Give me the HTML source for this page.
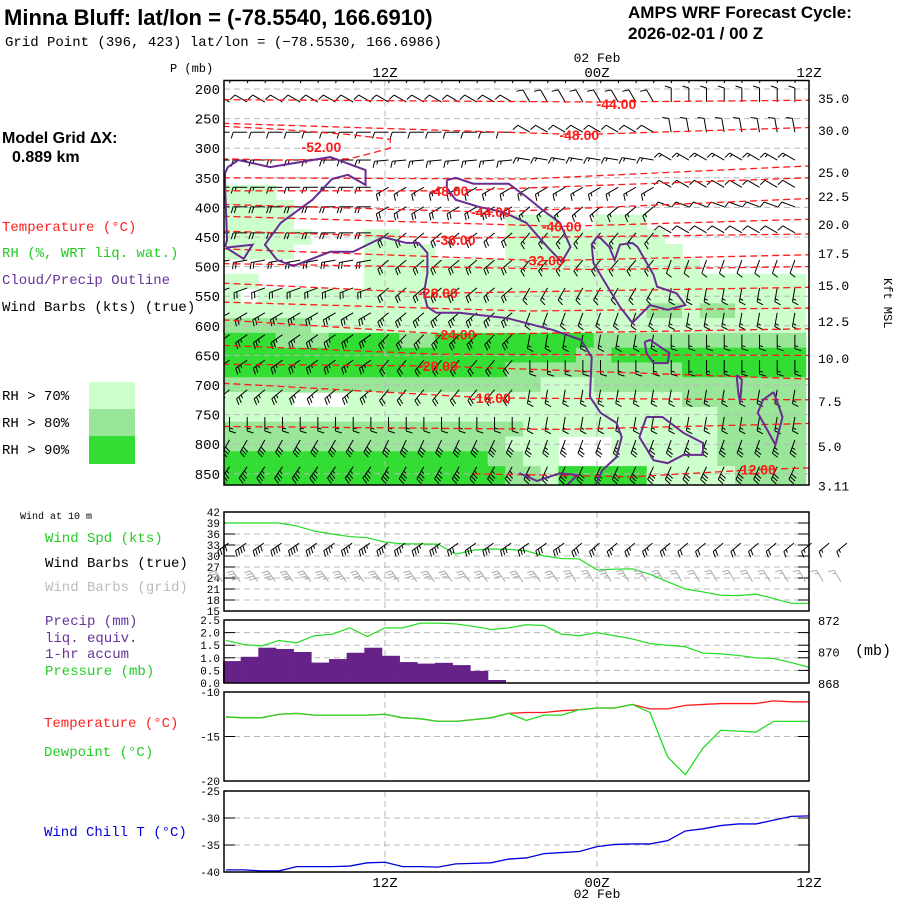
<!DOCTYPE html>
<html><head><meta charset="utf-8"><style>
html,body{margin:0;padding:0;background:#fff;}
svg{display:block;}
text{font-family:"Liberation Mono","DejaVu Sans Mono",monospace;}
.b{font-family:"Liberation Sans",sans-serif;font-weight:bold;}
.s{font-family:"Liberation Sans",sans-serif;}
</style></head><body>
<svg id="chart" xmlns="http://www.w3.org/2000/svg" width="900" height="900" viewBox="0 0 900 900">
<rect x="0" y="0" width="900" height="900" fill="#fff"/>
<text class="b" x="4" y="25" font-size="22">Minna Bluff:  lat/lon = (-78.5540, 166.6910)</text>
<text x="5" y="46" font-size="14">Grid Point (396, 423) lat/lon = (−78.5530, 166.6986)</text>
<text class="b" x="628" y="18" font-size="17">AMPS WRF Forecast Cycle:</text>
<text class="b" x="628" y="39" font-size="17">2026-02-01 / 00  Z</text>
<text class="b" x="2" y="143" font-size="16">Model Grid ΔX:</text>
<text class="b" x="12" y="162" font-size="16">0.889 km</text>
<g font-size="14">
<text x="2" y="231" fill="#ff2020">Temperature (°C)</text>
<text x="2" y="257" fill="#22cc22">RH (%, WRT liq. wat.)</text>
<text x="2" y="284" fill="#663399">Cloud/Precip Outline</text>
<text x="2" y="311" fill="#000">Wind Barbs (kts) (true)</text>
<text x="2" y="400">RH &gt; 70%</text>
<text x="2" y="427">RH &gt; 80%</text>
<text x="2" y="454">RH &gt; 90%</text>
</g>
<rect x="89" y="382" width="46" height="27" fill="#ccffcc"/>
<rect x="89" y="409" width="46" height="27" fill="#99e699"/>
<rect x="89" y="436" width="46" height="28" fill="#33dd33"/>
<text x="20" y="519" font-size="10">Wind at 10 m</text>
<g font-size="14">
<text x="45" y="542" fill="#22cc22">Wind Spd (kts)</text>
<text x="45" y="567" fill="#000">Wind Barbs (true)</text>
<text x="45" y="591" fill="#bbb">Wind Barbs (grid)</text>
<text x="45" y="625" fill="#663399">Precip (mm)</text>
<text x="45" y="642" fill="#663399">liq. equiv.</text>
<text x="45" y="658" fill="#663399">1-hr accum</text>
<text x="45" y="675" fill="#22cc22">Pressure (mb)</text>
<text x="44" y="727" fill="#ff2020">Temperature (°C)</text>
<text x="44" y="756" fill="#22cc22">Dewpoint (°C)</text>
<text x="44" y="836" fill="#0000dd">Wind Chill T (°C)</text>
</g>
<text x="170" y="72" font-size="12">P (mb)</text>
<text x="855" y="655" font-size="15">(mb)</text>
<text x="884" y="278" font-size="12" transform="rotate(90 884 278)">Kft MSL</text>
<g id="plot"></g>
</svg>
<script>
// ---------- data ----------
const hours = [3,4,5,6,7,8,9,10,11,12,13,14,15,16,17,18,19,20,21,22,23,24,25,26,27,28,29,30,31,32,33,34,35,36];
const windSpd = [39,39,39,39,38.2,36.8,36,35.3,35,33.8,33.3,33.3,33.2,30.5,31.6,31.9,31.8,31.4,30.0,29.3,29.2,26.2,26.4,26.5,25.0,23.0,21.0,20.2,19.3,19.2,19.6,18.4,17.1,17.1];
const sfcPres = [870.7,870.45,870.35,870.7,870.55,871.0,871.1,871.5,870.95,871.5,871.5,871.8,871.8,871.75,871.6,871.4,871.5,871.7,871.65,871.1,871.0,871.2,871.0,870.8,870.5,870.4,870.3,869.9,869.85,869.75,869.6,869.55,869.3,869.0];
const precip = [0.87,1.04,1.4,1.35,1.23,0.81,0.95,1.2,1.4,1.08,0.83,0.77,0.8,0.71,0.48,0.12];
const sfcTemp = [-12.8,-12.9,-12.9,-12.5,-12.4,-12.6,-12.6,-12.6,-12.6,-12.5,-12.9,-13.0,-13.3,-13.3,-13.1,-12.9,-12.4,-12.3,-12.3,-12.1,-12.0,-11.8,-11.8,-11.4,-11.9,-11.9,-11.5,-11.4,-11.3,-11.3,-11.3,-11.0,-11.1,-11.1];
const sfcDew = [-12.8,-12.9,-12.9,-12.5,-12.4,-12.6,-12.6,-12.6,-12.6,-12.5,-12.9,-13.0,-13.3,-13.3,-13.1,-12.9,-12.4,-13.2,-12.6,-12.6,-12.0,-11.8,-11.8,-11.4,-12.3,-17.3,-19.3,-16.3,-14.3,-14.4,-14.5,-13.3,-13.3,-13.3];
const windChill = [-39.6,-39.6,-39.8,-39.8,-39.0,-39.0,-39.0,-38.9,-38.3,-38.2,-39.0,-39.0,-39.1,-38.5,-38.4,-38.3,-37.6,-37.4,-36.6,-36.4,-36.2,-35.3,-34.9,-34.8,-34.8,-34.2,-32.4,-32.0,-31.4,-31.1,-31.1,-30.4,-29.7,-29.6];
const sfcBarbDir = [235,235,235,235,235,235,235,235,235,235,235,235,235,235,235,235,235,235,235,235,230,230,230,230,230,230,230,230,230,230,230,230,230,230,230,230];
const gridBarbDir = [325,325,325,325,325,325,325,325,325,325,325,325,325,325,325,325,325,325,325,325,330,330,330,330,330,330,330,330,330,330,330,330,330,330,330,330];

const pTicks = [200,250,300,350,400,450,500,550,600,650,700,750,800,850];
const kftLabels = ["35.0","30.0","25.0","22.5","20.0","17.5","15.0","12.5","10.0","7.5","5.0","3.11"];
const kftP = [215,269,340,381,428,477,531,592,654,727,803,870];
const windTicks = [42,39,36,33,30,27,24,21,18,15];
const precipTicks = [2.5,2.0,1.5,1.0,0.5,0.0];
const presTicks = [872,870,868];
const tempTicks = [-10,-15,-20];
const wcTicks = [-25,-30,-35,-40];

// RH categories (0 none, 1 >70, 2 >80, 3 >90): rows by pressure, columns hourly
const rhP = [200,225,250,275,300,325,350,375,400,425,450,475,500,525,550,575,600,625,650,675,700,725,750,775,800,825,850];
const rhRows = [
"000000000000000000000000000000000",
"000000000000000000000000000000000",
"000000000000000000000000000000000",
"000000000000000000000000000000000",
"000000000000000000000000000000000",
"000000000000000000000000000000000",
"000000000000000000000000000000000",
"111000000000000000000000000000000",
"111100000000000000000000000000000",
"111100000000000011100111000000000",
"111110001100000011111111100000000",
"111100001111000011111111110000000",
"000000001111111111111111111000000",
"110000001111111111111111111111111",
"101111111111111111111111111111111",
"111111111111111111111111221221111",
"222221111111111111111111111111111",
"333222333322333333333222222222222",
"333333333333333333332233333333333",
"333333333333333322222222223333333",
"222222222222222222111222222222222",
"111100011111111111111111112222222",
"111111111111111111111111111122222",
"222222222222222221111111111122222",
"222222222222222211100011111122222",
"333333333333333221100011111122222",
"333333333333333322133333111112222"];

// isotherms: lists of [hour, pressure]
const isoLines = [
 [[2.8,218],[24,222],[36,219]],
 [[2.8,258],[23,277],[36,265]],
 [[2.8,263],[6,268],[10,277],[12.3,285],[12.3,300],[10,318],[6,320],[2.8,318]],
 [[2.8,350],[20,352],[36,330]],
 [[2.8,372],[15.5,372],[36,350]],
 [[2.8,395],[18,408],[36,385]],
 [[2.8,415],[22,432],[36,420]],
 [[2.8,440],[16,452],[36,445]],
 [[2.8,470],[21,490],[36,480]],
 [[2.8,495],[24,505],[36,500]],
 [[2.8,528],[15,545],[36,535]],
 [[2.8,560],[20,575],[36,570]],
 [[2.8,590],[16,615],[36,605]],
 [[2.8,633],[15,648],[36,650]],
 [[2.8,665],[15,668],[36,690]],
 [[2.8,697],[18,722],[36,725]],
 [[2.8,770],[22,775],[36,765]],
 [[17,850],[26,855],[33,843],[36,840]]];
const isoLabels = ["-44.00","-48.00","-52.00","-48.00","-44.00","-40.00","-36.00","-32.00","-28.00","-24.00","-20.00","-16.00","-12.00"];
const isoLabelH = [25.1,23,8.4,15.6,18,22,16,21,15,16,15,18,33];
const isoLabelP = [225,278,298,372,408,432,455,490,545,615,668,722,843];

// cloud/precip outlines: lists of [hour, pressure]
const clouds = [
 [[2.95,342],[3.1,332],[3.7,320],[5.5,332],[8.9,315],[10.9,337],[10.9,362],[9.9,345],[9.0,352],[7.9,387],[6.1,426],[5.2,463],[5.9,489],[6.8,499],[8.9,475],[10.2,475],[11.9,450],[13.2,460],[13.9,460],[14.4,477],[14.4,511],[14.2,545],[14.4,568],[14.9,578],[16.2,578],[18.9,587],[21.5,607],[23.1,624],[23.7,653],[23.6,720],[24.2,747],[25.1,764],[25.4,788],[25.1,822],[24.3,844],[23.9,869]],
 [[2.95,342],[2.95,366],[3.06,455],[2.95,467]],
 [[3.0,468],[4.5,463],[4.0,487],[3.0,468]],
 [[19.6,849],[20.6,862],[21.9,849],[22.9,852],[22.3,869]],
 [[15.5,354],[16.0,350],[17.0,360],[19.0,360],[20.0,382],[20.9,404],[21.9,426],[22.5,467],[22.0,492],[21.2,467],[20.0,426],[18.7,408],[17.3,399],[16.0,387],[15.5,367],[15.5,354]],
 [[24.0,450],[23.7,463],[23.8,494],[24.6,534],[25.3,568],[26.0,595],[27.0,565],[28.0,573],[29.0,565],[28.5,545],[27.4,534],[27.2,514],[26.3,467],[26.0,460],[25.3,463],[25.0,489],[24.7,467],[24.2,452],[24.0,450]],
 [[26.7,627],[27.0,624],[28.1,646],[28.0,663],[27.2,663],[26.8,646],[26.7,627]],
 [[31.9,683],[32.2,691],[32.1,730],[32.0,713],[31.9,683]],
 [[34.0,712],[34.5,754],[34.1,801],[33.1,747],[33.4,725],[34.0,712]],
 [[26.8,754],[27.7,754],[28.9,781],[30.0,798],[30.0,818],[28.9,818],[28.0,832],[27.2,827],[26.4,788],[26.8,754]]];

// upper-air barbs: rows at pressure, 4 time segments of direction / speed
const barbP = [190,222,273,320,366,399,443,489,536,578,615,658,708,754,793,838];
const barbDir = [[20,20,15,10],[300,300,330,0],[270,270,300,350],[270,265,280,300],[270,240,240,300],[270,240,230,290],[270,230,220,300],[260,230,220,200],[250,230,210,190],[240,230,200,190],[235,225,190,180],[235,220,180,180],[230,220,190,190],[180,180,190,190],[210,205,200,200],[215,210,205,205]];
const barbSpd = [[5,5,5,5],[10,10,10,10],[10,10,10,10],[15,15,15,15],[15,15,15,10],[20,20,15,10],[20,20,15,10],[20,20,15,10],[20,20,15,15],[25,25,15,15],[25,25,15,15],[25,20,15,15],[25,20,15,15],[15,15,15,15],[30,30,25,25],[35,35,30,30]];

// ---------- scales ----------
const X0=224, X1=809, H0=2.83;
const xH = h => 385 + (h-12)*17.667;
const MY0=80.5, MY1=485;
const yP = p => 89 + (p-200)*0.592;
const yW = v => 512 + (42-v)*3.667;
const yPr = v => 683 - v*25.2;
const yPs = p => 683 - (p-868)*15.75;
const yT = t => 692 + (-10-t)*8.9;
const yWC = t => 791 + (-25-t)*5.4;

const NS="http://www.w3.org/2000/svg";
const plot=document.getElementById('plot');
function el(tag, attrs, parent){const e=document.createElementNS(NS,tag);for(const k in attrs)e.setAttribute(k,attrs[k]);(parent||plot).appendChild(e);return e;}

const defs=el('defs',{});
const cp=el('clipPath',{id:'mainclip'},defs);
el('rect',{x:X0,y:MY0,width:X1-X0,height:MY1-MY0},cp);
const cpw=el('clipPath',{id:'windclip'},defs);
el('rect',{x:X0,y:512,width:X1-X0,height:99},cpw);

// ---------- main panel ----------
const main=el('g',{'clip-path':'url(#mainclip)'});


const rhColors=['none','#ccffcc','#99e699','#33dd33'];
rhRows.forEach((row,ri)=>{
  const pTop = ri===0 ? 180 : rhP[ri]-12.5;
  const pBot = ri===rhP.length-1 ? 875 : rhP[ri]+12.5;
  for(let ci=0;ci<row.length;ci++){
    const v=+row[ci]; if(!v) continue;
    const r=el('rect',{x:xH(H0+ci)-0.3,y:yP(pTop)-0.3,width:17.667+0.6,height:yP(pBot)-yP(pTop)+0.6,fill:rhColors[v]},main);
    
    
  }
});
pTicks.forEach(p=>{
  const l=el('line',{x1:X0,x2:X1,y1:yP(p),y2:yP(p),stroke:'#b8b8b8','stroke-dasharray':'6,4','stroke-width':1},main);
  
  
});
[12,24].forEach(h=>{
  const l=el('line',{x1:xH(h),x2:xH(h),y1:MY0,y2:MY1,stroke:'#b8b8b8','stroke-dasharray':'6,4'},main);
  
  
});
function barb(parent, cx, cy, dir, spd, color, len, sw){
  const g=el('g',{stroke:color,'stroke-width':sw||1,fill:'none'},parent);
  const t=dir*Math.PI/180, dx=Math.sin(t), dy=-Math.cos(t);
  const px=dy, py=-dx;
  const tx=cx+dx*len, ty=cy+dy*len;
  el('line',{x1:cx,y1:cy,x2:tx,y2:ty},g);
  let s=Math.round(spd/5)*5, pos=0;
  const fl=len*0.45;
  while(s>=10){const bx=tx-dx*pos, by=ty-dy*pos; el('line',{x1:bx,y1:by,x2:bx+px*fl+dx*2,y2:by+py*fl+dy*2},g); pos+=3; s-=10;}
  if(s>=5){ if(pos===0)pos=3; const bx=tx-dx*pos, by=ty-dy*pos; el('line',{x1:bx,y1:by,x2:bx+px*fl*0.55+dx*1,y2:by+py*fl*0.55+dy*1},g);}
  return g;
}
barbP.forEach((p,ri)=>{
  for(let k=0;k<33;k++){
    const seg=Math.min(3,Math.floor(k/8.25));
    const g=barb(main, xH(3.2+k), yP(p), barbDir[ri][seg], barbSpd[ri][seg], '#000', 14, 1);
    
    
  }
});
isoLines.forEach(line=>{
  const pl=el('polyline',{points:line.map(d=>xH(d[0])+','+yP(d[1])).join(' '),fill:'none',stroke:'#ff1a1a','stroke-width':1.3,'stroke-dasharray':'7,4'},main);
  
  
});
clouds.forEach(c=>{
  const pl=el('polyline',{points:c.map(d=>xH(d[0])+','+yP(d[1])).join(' '),fill:'none',stroke:'#6a2c91','stroke-width':2},main);
  
  
});
isoLabels.forEach((s,i)=>{
  const t=el('text',{x:xH(isoLabelH[i]),y:yP(isoLabelP[i])+5,'font-size':14,fill:'#ff1a1a','text-anchor':'middle',class:'b'},main);
  t.textContent=s;
  
  
});
const mf=el('rect',{x:X0,y:MY0,width:X1-X0,height:MY1-MY0,fill:'none',stroke:'#000','stroke-width':1.5});


pTicks.forEach(p=>{
  const t=el('text',{x:220,y:yP(p)+5,'font-size':14,'text-anchor':'end'});
  t.textContent=p;
  
  
});
kftLabels.forEach((s,i)=>{
  const t=el('text',{x:818,y:yP(kftP[i])+5,'font-size':13});
  t.textContent=s;
  
  
});
function timeLabels(y, dateY){
  [[12,'12Z'],[24,'00Z'],[36,'12Z']].forEach(d=>{
    const t=el('text',{x:xH(d[0]),y:y,'font-size':14,'text-anchor':'middle'});
    t.textContent=d[1];
    
    
  });
  const t=el('text',{x:xH(24),y:dateY,'font-size':13,'text-anchor':'middle'});
  t.textContent='02 Feb';
  
  
}
timeLabels(77,62);
timeLabels(887,898);

// ---------- lower panels ----------
function panel(name, y0, y1, ticks, yf, leftLabels, rightTicks, yr){
  const g=el('g',{});
  
  
  ticks.forEach(v=>{
    const y=yf(v);
    if(y>y0+1&&y<y1-1){
      const l=el('line',{x1:X0,x2:X1,y1:y,y2:y,stroke:'#b8b8b8','stroke-dasharray':'6,4'},g);
      
      
      el('line',{x1:X0,x2:X0+11,y1:y,y2:y,stroke:'#000'},g);
      el('line',{x1:X1-11,x2:X1,y1:y,y2:y,stroke:'#000'},g);
    }
    if(leftLabels){
      const t=el('text',{x:220,y:y+4,'font-size':11,'text-anchor':'end'},g);
      t.textContent=leftLabels(v);
      
      
    }
  });
  if(rightTicks){rightTicks.forEach(v=>{
    const y=yr(v);
    if(y>y0+1&&y<y1-1){el('line',{x1:X1-11,x2:X1,y1:y,y2:y,stroke:'#000'},g);}
    const t=el('text',{x:818,y:y+5,'font-size':12},g);
    t.textContent=v;
    
    
  });}
  [12,24].forEach(h=>{
    el('line',{x1:xH(h),x2:xH(h),y1:y0,y2:y1,stroke:'#b8b8b8','stroke-dasharray':'6,4'},g);
  });
  return g;
}
const pw=panel('wind-panel',512,611,windTicks,yW,v=>v);
const pp=panel('precip-pressure-panel',620,683,precipTicks,yPr,v=>v.toFixed(1),presTicks,yPs);
const pt=panel('temperature-panel',692,781,tempTicks,yT,v=>v);
const pc=panel('wind-chill-panel',791,872,wcTicks,yWC,v=>v);

const wl=el('polyline',{points:hours.map((h,i)=>xH(h)+','+yW(windSpd[i])).join(' '),fill:'none',stroke:'#22dd22','stroke-width':1.2,'clip-path':'url(#windclip)'},pw);


sfcBarbDir.forEach((d,k)=>{
  const h=2.8+k;
  const sp=windSpd[Math.min(windSpd.length-1,Math.max(0,Math.round(h)-3))];
  const g=barb(pw, xH(h)+6, yW(33.5), d, sp, '#000', 13, 1);
  
  
  const g2=barb(pw, xH(h), yW(23), gridBarbDir[k], sp, '#aaa', 13, 1);
  
  
});
precip.forEach((v,k)=>{
  const r=el('rect',{x:xH(H0+k),y:yPr(v),width:17.667+0.3,height:yPr(0)-yPr(v),fill:'#662288'},pp);
  
  
});
const pl=el('polyline',{points:hours.map((h,i)=>xH(h)+','+yPs(sfcPres[i])).join(' '),fill:'none',stroke:'#22dd22','stroke-width':1.2},pp);


const tl=el('polyline',{points:hours.map((h,i)=>xH(h)+','+yT(sfcTemp[i])).join(' '),fill:'none',stroke:'#ff1a1a','stroke-width':1.3},pt);


const dl=el('polyline',{points:hours.map((h,i)=>xH(h)+','+yT(sfcDew[i])).join(' '),fill:'none',stroke:'#22dd22','stroke-width':1.3},pt);


const cl=el('polyline',{points:hours.map((h,i)=>xH(h)+','+yWC(windChill[i])).join(' '),fill:'none',stroke:'#0000dd','stroke-width':1.3},pc);


[[pw,512,611],[pp,620,683],[pt,692,781],[pc,791,872]].forEach(a=>{
  const r=el('rect',{x:X0,y:a[1],width:X1-X0,height:a[2]-a[1],fill:'none',stroke:'#000','stroke-width':1.5},a[0]);
  
  
});
</script>
</body></html>
